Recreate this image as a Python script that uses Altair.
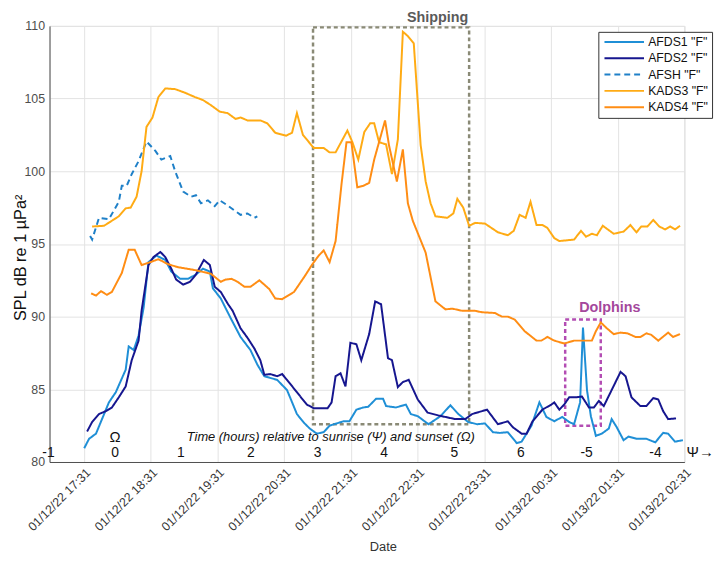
import altair as alt
import pandas as pd

BASE = pd.Timestamp("2022-01-12 17:00")
FONT = "Liberation Sans"

series_names = ['AFDS1 "F"', 'AFDS2 "F"', 'AFSH "F"', 'KADS3 "F"', 'KADS4 "F"']
series_colors = ["#1f8fd6", "#16168f", "#1f80c8", "#ffab14", "#ff8d14"]
series_dash = [[1, 0], [1, 0], [6, 4], [1, 0], [1, 0]]

# minutes after 01/12/22 17:00 and SPL values (dB)
afds1_min = [31.2, 35.6, 41.8, 47.2, 53.4, 59.6, 68.5, 71.2, 75.7, 80.1, 84.6, 89.0, 96.1, 104.1, 109.5,
             117.5, 124.6, 131.7, 138.0, 144.2, 146.9, 154.0, 162.9, 171.8, 180.7, 186.9, 193.2, 204.7,
             213.6, 222.5, 228.8, 234.1, 240.4, 246.6, 251.9, 264.4, 269.7, 276.0, 282.2, 286.6, 293.7,
             300.0, 302.7, 311.6, 320.5, 324.9, 331.2, 340.9, 351.6, 360.5, 367.7, 376.5, 384.6, 391.7,
             398.8, 405.0, 412.2, 420.2, 424.6, 433.5, 440.6, 446.9, 454.0, 461.1, 467.4, 471.8, 477.2,
             479.8, 483.4, 486.9, 491.4, 496.7, 503.0, 505.6, 510.1, 516.3, 520.8, 527.9, 536.8, 544.8,
             551.9, 556.4, 562.6, 569.7]
afds1_db = [80.95, 81.6, 81.95, 82.95, 84.1, 84.8, 86.35, 87.95, 87.7, 88.7, 90.6, 93.75, 94.2, 93.9, 93.1,
            92.6, 92.6, 92.9, 93.3, 93.1, 91.95, 91.25, 89.9, 88.6, 87.7, 86.7, 85.9, 85.65,
            84.95, 83.3, 82.7, 82.3, 81.95, 82.05, 82.5, 82.8, 82.8, 83.6, 83.75, 83.8, 84.35,
            84.35, 83.85, 83.75, 83.95, 83.3, 83.15, 82.6, 83.15, 83.9, 83.3, 82.75, 82.6, 82.65,
            82.05, 82.0, 82.05, 81.3, 81.4, 82.5, 84.1, 83.1, 82.8, 83.1, 82.75, 82.6, 84.1,
            89.25, 84.95, 83.15, 81.8, 81.95, 82.3, 82.95, 82.4, 81.5, 81.75, 81.6, 81.6, 81.35,
            82.0, 81.95, 81.4, 81.5]

afds2_min = [33.8, 38.3, 44.5, 50.7, 56.1, 62.3, 68.5, 73.9, 80.1, 82.8, 89.0, 93.5, 99.7, 104.1, 109.5,
             113.9, 120.2, 126.4, 131.7, 138.8, 144.2, 148.6, 154.0, 160.2, 164.7, 171.8, 178.0, 184.3,
             189.6, 193.2, 198.5, 204.7, 209.2, 213.6, 222.5, 231.4, 237.7, 250.1, 253.7, 257.3, 261.7,
             266.2, 270.6, 276.0, 280.4, 287.5, 292.9, 298.2, 304.4, 308.0, 313.3, 317.8, 323.1, 331.2,
             340.0, 349.8, 365.0, 373.9, 380.1, 393.5, 397.9, 403.3, 412.2, 416.6, 424.6, 429.1, 434.4,
             443.3, 451.3, 454.0, 458.5, 462.9, 467.4, 473.6, 478.9, 485.2, 489.6, 494.1, 498.5, 505.6,
             513.6, 518.1, 523.4, 531.4, 536.8, 543.0, 547.5, 551.9, 556.4, 563.5]
afds2_db = [82.1, 82.75, 83.3, 83.5, 83.75, 84.45, 85.2, 87.0, 88.35, 90.4, 93.55, 94.1, 94.45, 94.1, 93.3,
            92.55, 92.2, 92.4, 92.9, 93.9, 93.55, 92.05, 91.7, 90.9, 90.4, 89.2, 88.55, 87.8,
            87.0, 86.0, 86.05, 85.9, 86.05, 85.65, 84.8, 83.95, 83.7, 83.7, 84.1, 85.9, 86.1,
            85.2, 88.2, 88.1, 87.0, 88.8, 91.05, 90.85, 87.15, 87.0, 85.15, 85.5, 85.65, 84.3,
            83.4, 83.2, 82.95, 82.95, 83.3, 83.6, 83.15, 82.6, 82.8, 82.4, 81.95, 81.95, 82.8,
            83.6, 83.95, 84.1, 83.6, 83.95, 84.45, 84.45, 84.5, 83.75, 83.75, 84.2, 83.85, 84.95,
            86.2, 85.9, 84.45, 83.85, 83.85, 84.4, 84.3, 83.5, 82.95, 83.0]

afsh_min = [36.5, 38.3, 44.5, 53.4, 62.3, 65.0, 69.4, 73.9, 80.1, 87.2, 95.2, 100.6, 108.6, 113.0,
            120.2, 127.3, 131.7, 136.2, 142.4, 148.6, 153.1, 160.2, 166.4, 171.8, 178.0, 184.3, 186.9]
afsh_db = [95.55, 95.3, 96.8, 96.7, 97.9, 99.0, 99.0, 99.8, 100.7, 102.05, 101.4, 100.8, 101.05, 100.0,
           98.6, 98.25, 98.35, 97.8, 98.0, 97.6, 98.0, 97.65, 97.3, 97.0, 97.1, 96.8, 96.9]

kads3_min = [38.3, 49.0, 62.3, 68.5, 73.0, 78.3, 82.8, 87.2, 92.6, 97.9, 104.1, 113.0, 121.9, 130.9,
             138.0, 145.1, 153.1, 160.2, 167.3, 171.8, 178.0, 189.6, 195.8, 203.0, 212.8, 218.1, 222.5,
             227.9, 237.7, 246.6, 251.9, 257.3, 267.9, 272.4, 277.7, 283.1, 288.4, 292.0, 296.4, 302.7,
             308.0, 313.3, 317.8, 322.3, 327.6, 333.8, 338.3, 342.7, 347.1, 357.8, 363.2, 366.8, 372.1,
             377.4, 382.8, 391.7, 403.3, 412.2, 417.5, 422.8, 428.2, 432.6, 438.0, 443.3, 447.8, 454.0,
             458.5, 471.8, 478.0, 482.5, 487.8, 492.3, 497.6, 501.2, 507.4, 516.3, 522.5, 527.9, 532.3,
             537.7, 543.0, 548.4, 553.7, 558.2, 562.6, 567.1]
kads3_db = [96.2, 96.25, 96.9, 97.45, 97.5, 98.25, 100.0, 103.05, 103.7, 105.1, 105.7, 105.65, 105.4, 105.1,
            104.9, 104.55, 104.1, 104.0, 103.6, 103.7, 103.5, 103.5, 103.3, 102.65, 102.45, 102.65, 104.0,
            102.5, 101.6, 101.6, 101.3, 101.3, 102.8, 102.0, 100.8, 102.7, 103.3, 103.3, 102.0, 101.85,
            99.8, 102.2, 109.6, 109.3, 108.8, 101.8, 99.3, 97.8, 96.9, 96.8, 97.1, 98.1, 97.5,
            96.25, 96.45, 96.4, 95.8, 95.6, 95.9, 97.0, 96.8, 97.9, 96.3, 96.3, 96.1, 95.4,
            95.2, 95.3, 95.9, 95.5, 95.7, 95.6, 96.25, 96.05, 95.7, 95.85, 96.3, 95.8, 96.2,
            96.2, 96.65, 96.2, 96.0, 96.2, 96.0, 96.25]

kads4_min = [37.4, 41.8, 46.3, 51.6, 56.1, 65.0, 71.2, 76.6, 82.8, 90.8, 97.9, 106.8, 115.7, 130.9,
             145.1, 154.0, 158.4, 163.8, 169.1, 175.4, 180.7, 188.7, 197.6, 203.0, 209.2, 219.9, 229.7,
             235.9, 242.1, 246.6, 251.9, 257.3, 262.6, 267.1, 271.5, 276.8, 282.2, 287.5, 292.0, 301.8,
             305.3, 312.4, 317.8, 322.3, 326.7, 338.3, 347.1, 356.1, 362.3, 371.2, 382.8, 389.0, 400.6,
             406.8, 412.2, 418.4, 427.3, 438.0, 442.4, 447.8, 454.0, 462.9, 471.8, 487.8, 491.4, 495.8,
             501.2, 507.4, 513.6, 519.9, 527.0, 531.4, 536.8, 541.2, 547.5, 556.4, 560.8, 567.1]
kads4_db = [91.6, 91.45, 91.75, 91.5, 91.7, 93.0, 94.6, 94.6, 93.55, 93.75, 93.95, 93.6, 93.4, 93.2,
            92.95, 92.4, 92.55, 92.6, 92.4, 92.05, 92.05, 92.5, 91.9, 91.25, 91.2, 91.7, 92.8,
            93.55, 94.2, 94.55, 93.75, 95.2, 99.1, 102.0, 102.0, 98.9, 99.0, 99.2, 100.8, 103.5,
            101.8, 99.3, 101.5, 97.8, 96.6, 94.4, 91.05, 90.5, 90.55, 90.4, 90.4, 90.3, 90.25,
            90.0, 90.0, 89.8, 89.0, 88.35, 88.35, 88.6, 88.35, 88.15, 88.35, 88.35, 89.0, 89.6,
            89.2, 88.8, 88.9, 88.85, 88.6, 88.6, 88.85, 88.75, 88.35, 88.9, 88.6, 88.8]

# hours relative to sunrise / sunset annotation row
hour_labels = ["-1", "0", "1", "2", "3", "4", "5", "6", "-5", "-4"]
hour_minutes = [-1, 59, 118, 181, 241, 301, 364, 424, 483, 545]
HOUR_ROW_DB = 80.6
NOTE_ROW_DB = 81.7

# boxes: [start min, end min, low dB, high dB]
shipping_box = [237.0, 377.4, 82.6, 109.9]
dolphin_box = [463.8, 495.8, 82.5, 89.8]

tick_hours = [(12, 17), (12, 18), (12, 19), (12, 20), (12, 21), (12, 22), (12, 23), (13, 0), (13, 1), (13, 2)]
y_ticks = [80, 85, 90, 95, 100, 105, 110]


def t_of(m):
    return BASE + pd.to_timedelta(m, unit="min")


frames = []
for name, mins, vals in [
    (series_names[0], afds1_min, afds1_db),
    (series_names[1], afds2_min, afds2_db),
    (series_names[2], afsh_min, afsh_db),
    (series_names[3], kads3_min, kads3_db),
    (series_names[4], kads4_min, kads4_db),
]:
    frames.append(pd.DataFrame({"series": name, "t": [t_of(m) for m in mins], "v": vals}))
lines_df = pd.concat(frames, ignore_index=True)

x_dom = [alt.DateTime(year=2022, month=1, date=12, hours=17, minutes=0),
         alt.DateTime(year=2022, month=1, date=13, hours=2, minutes=31)]
x_vals = [alt.DateTime(year=2022, month=1, date=d, hours=h, minutes=31) for d, h in tick_hours]

x_enc = alt.X(
    "t:T",
    scale=alt.Scale(domain=x_dom),
    axis=alt.Axis(
        values=x_vals, format="%m/%d/%y %H:%M", labelAngle=-45, labelAlign="right",
        labelBaseline="top", labelPadding=4, labelFontSize=12.5, labelColor="#333333",
        labelOverlap=False, labelBound=False, labelFlush=False,
        ticks=False, tickSize=0, domainColor="#4d4d4d", gridColor="#e3e3e3", labelFont=FONT,
        title="Date", titleFont=FONT, titleFontSize=13, titleFontWeight="normal",
        titleColor="#333333", titleX=337, titleY=80,
    ),
)
y_enc = alt.Y(
    "v:Q",
    scale=alt.Scale(domain=[80, 110], nice=False, zero=False),
    axis=alt.Axis(
        values=y_ticks, labelFontSize=12.5, labelColor="#4d4d4d", labelPadding=5, labelFont=FONT,
        ticks=False, tickSize=0, domainColor="#4d4d4d", gridColor="#e3e3e3",
        title="SPL dB re 1 µPa²", titleFont=FONT, titleFontSize=16.5, titleFontWeight="normal",
        titleColor="#111111", titleX=-21, titleY=234,
    ),
)

legend = alt.Legend(
    title=None, orient="none", legendX=555, legendY=6, symbolType="M-4,0H4", symbolSize=100,
    symbolStrokeWidth=2, labelFontSize=12.4, labelFont=FONT, labelColor="#111111", padding=4,
    rowPadding=3.5, strokeColor="#333333", fillColor="white", labelOffset=18, symbolOffset=16,
)

lines = alt.Chart(lines_df).mark_line(strokeWidth=2).encode(
    x=x_enc, y=y_enc,
    color=alt.Color("series:N", scale=alt.Scale(domain=series_names, range=series_colors), legend=legend),
    strokeDash=alt.StrokeDash("series:N", scale=alt.Scale(domain=series_names, range=series_dash), legend=legend),
)

ship_df = pd.DataFrame({"t": [t_of(shipping_box[0])], "t2": [t_of(shipping_box[1])],
                        "v": [shipping_box[2]], "v2": [shipping_box[3]]})
dol_df = pd.DataFrame({"t": [t_of(dolphin_box[0])], "t2": [t_of(dolphin_box[1])],
                       "v": [dolphin_box[2]], "v2": [dolphin_box[3]]})

ship_rect = alt.Chart(ship_df).mark_rect(fill="transparent", stroke="#8a8a76", strokeWidth=2.5,
                                         strokeDash=[4, 3]).encode(x=x_enc, x2="t2:T", y=y_enc, y2="v2:Q")
dol_rect = alt.Chart(dol_df).mark_rect(fill="transparent", stroke="#b34db3", strokeWidth=2.5,
                                       strokeDash=[4, 3]).encode(x=x_enc, x2="t2:T", y=y_enc, y2="v2:Q")

ship_lbl = alt.Chart(pd.DataFrame({"t": [t_of(349)], "v": [110], "txt": ["Shipping"]})).mark_text(
    font=FONT, fontSize=14.5, fontWeight="bold", color="#5a5a5a", baseline="alphabetic", dy=-4
).encode(x=x_enc, y=y_enc, text="txt:N")
dol_lbl = alt.Chart(pd.DataFrame({"t": [t_of(504)], "v": [90.6], "txt": ["Dolphins"]})).mark_text(
    font=FONT, fontSize=14.5, fontWeight="bold", color="#a4479c", baseline="middle"
).encode(x=x_enc, y=y_enc, text="txt:N")

hours_df = pd.DataFrame({"t": [t_of(m) for m in hour_minutes], "v": HOUR_ROW_DB, "txt": hour_labels})
hours_txt = alt.Chart(hours_df).mark_text(font=FONT, fontSize=14, color="#111111", baseline="middle").encode(
    x=x_enc, y=y_enc, text="txt:N")

psi_txt = alt.Chart(pd.DataFrame({"t": [t_of(573)], "v": [HOUR_ROW_DB + 0.1], "txt": ["Ψ→"]})).mark_text(
    font=FONT, fontSize=15, color="#111111", baseline="middle", align="left"
).encode(x=x_enc, y=y_enc, text="txt:N")

omega_txt = alt.Chart(pd.DataFrame({"t": [t_of(59)], "v": [NOTE_ROW_DB], "txt": ["Ω"]})).mark_text(
    font=FONT, fontSize=15, color="#111111", baseline="middle"
).encode(x=x_enc, y=y_enc, text="txt:N")

note_txt = alt.Chart(pd.DataFrame({"t": [t_of(253)], "v": [NOTE_ROW_DB],
                                   "txt": ["Time (hours) relative to sunrise (Ψ) and sunset (Ω)"]})).mark_text(
    font=FONT, fontSize=13, fontStyle="italic", color="#111111", baseline="middle"
).encode(x=x_enc, y=y_enc, text="txt:N")

chart = alt.layer(
    ship_rect, dol_rect, lines, ship_lbl, dol_lbl, hours_txt, psi_txt, omega_txt, note_txt
).properties(
    width=642, height=441,
    autosize=alt.AutoSizeParams(type="none"),
    padding={"left": 42, "top": 15, "right": 34, "bottom": 96},
).configure_view(stroke="transparent").configure(font=FONT, background="white")

chart.save("out.html", embed_options={"renderer": "svg", "actions": False})
